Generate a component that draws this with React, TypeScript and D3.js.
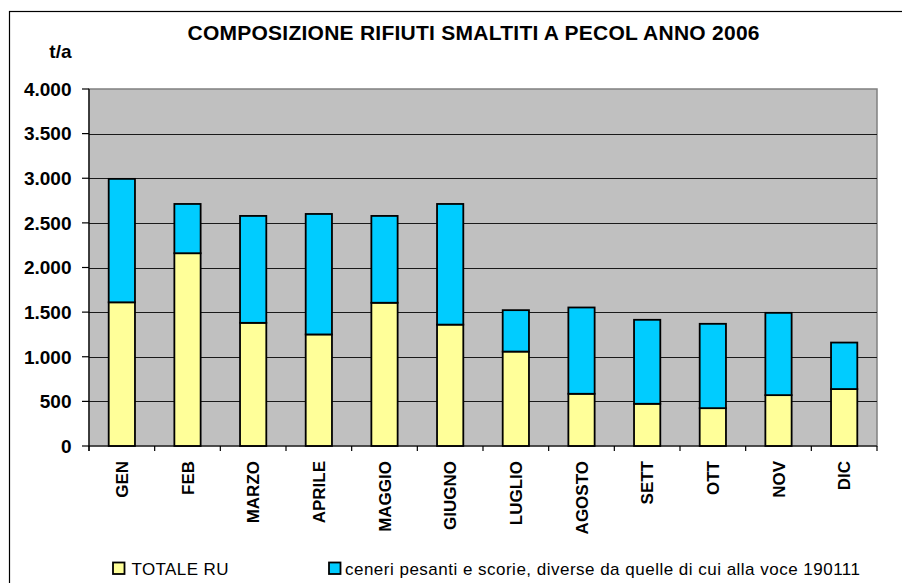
import React, { useEffect, useRef } from "react";
import * as d3 from "d3";

const months = ["GEN", "FEB", "MARZO", "APRILE", "MAGGIO", "GIUGNO", "LUGLIO", "AGOSTO", "SETT", "OTT", "NOV", "DIC"];
const totaleRU = [1610, 2160, 1380, 1250, 1605, 1360, 1058, 585, 473, 424, 570, 638];
const ceneri = [1383, 552, 1198, 1350, 973, 1352, 464, 967, 941, 945, 922, 521];
const yTicks = [0, 500, 1000, 1500, 2000, 2500, 3000, 3500, 4000];
const seriesNames = ["TOTALE RU", "ceneri pesanti e scorie, diverse da quelle di cui alla voce 190111"];
const seriesColors = ["#ffff99", "#00ccff"];
const title = "COMPOSIZIONE RIFIUTI SMALTITI A PECOL ANNO 2006";

const W = 902, H = 583;
const plot = { left: 89, right: 877, top: 89, bottom: 446 };

export default function App() {
  const ref = useRef<SVGSVGElement>(null);
  useEffect(() => {
    const svg = d3.select(ref.current);
    svg.selectAll("*").remove();
    const font = "Arial, 'Liberation Sans', Helvetica, sans-serif";

    // outer frame
    svg.append("rect").attr("x", 9.5).attr("y", 11.5).attr("width", 1000).attr("height", 1000)
      .attr("fill", "white").attr("stroke", "black").attr("stroke-width", 1.2);

    const x = d3.scaleBand<string>().domain(months).range([plot.left, plot.right]).paddingInner(0.6).paddingOuter(0.3);
    const band = d3.scaleBand<string>().domain(months).range([plot.left, plot.right]);
    const y = d3.scaleLinear().domain([0, 4000]).range([plot.bottom, plot.top]);

    // plot area
    svg.append("rect").attr("x", plot.left).attr("y", plot.top)
      .attr("width", plot.right - plot.left).attr("height", plot.bottom - plot.top)
      .attr("fill", "#c0c0c0").attr("stroke", "#808080").attr("stroke-width", 1.5);

    // gridlines
    svg.append("g").selectAll("line").data(yTicks.filter(t => t > 0 && t < 4000)).join("line")
      .attr("x1", plot.left).attr("x2", plot.right)
      .attr("y1", d => Math.round(y(d)) + 0.5).attr("y2", d => Math.round(y(d)) + 0.5)
      .attr("stroke", "#1a1a1a").attr("stroke-width", 1);

    // stacked bars
    const data = months.map((m, i) => ({ m, a: totaleRU[i], b: ceneri[i] }));
    const stack = d3.stack<any>().keys(["a", "b"])(data as any);
    stack.forEach((layer, li) => {
      svg.append("g").selectAll("rect").data(layer).join("rect")
        .attr("x", (d: any) => x(d.data.m)!)
        .attr("width", x.bandwidth())
        .attr("y", (d: any) => y(d[1]))
        .attr("height", (d: any) => y(d[0]) - y(d[1]))
        .attr("fill", seriesColors[li])
        .attr("stroke", "black").attr("stroke-width", 1.8);
    });

    // axes lines
    svg.append("line").attr("x1", plot.left).attr("x2", plot.left).attr("y1", plot.top).attr("y2", plot.bottom + 5)
      .attr("stroke", "black").attr("stroke-width", 1.2);
    svg.append("line").attr("x1", plot.left).attr("x2", plot.right).attr("y1", plot.bottom).attr("y2", plot.bottom)
      .attr("stroke", "black").attr("stroke-width", 1.2);

    // y ticks
    const yg = svg.append("g");
    yg.selectAll("line").data(yTicks).join("line")
      .attr("x1", plot.left - 7).attr("x2", plot.left)
      .attr("y1", d => y(d)).attr("y2", d => y(d)).attr("stroke", "black").attr("stroke-width", 1.2);
    const fmt = d3.formatLocale({ decimal: ",", thousands: ".", grouping: [3], currency: ["", ""] }).format(",d");
    yg.selectAll("text").data(yTicks).join("text")
      .attr("x", 71.5).attr("y", d => y(d)).attr("dy", "0.36em")
      .attr("text-anchor", "end").attr("font-family", font).attr("font-weight", "bold").attr("font-size", 19)
      .text(d => fmt(d));

    // x ticks
    const bounds = months.map(m => band(m)!).concat([plot.right]);
    svg.append("g").selectAll("line").data(bounds).join("line")
      .attr("x1", d => d).attr("x2", d => d).attr("y1", plot.bottom).attr("y2", plot.bottom + 5)
      .attr("stroke", "black").attr("stroke-width", 1.2);
    svg.append("g").selectAll("text").data(months).join("text")
      .attr("transform", m => `translate(${band(m)! + band.bandwidth() / 2},461) rotate(-90)`)
      .attr("text-anchor", "end").attr("dy", "0.36em")
      .attr("font-family", font).attr("font-weight", "bold").attr("font-size", 17)
      .text(m => m);

    // y unit
    svg.append("text").attr("x", 71.5).attr("y", 58).attr("text-anchor", "end")
      .attr("font-family", font).attr("font-weight", "bold").attr("font-size", 19).text("t/a");

    // title
    svg.append("text").attr("x", 187.5).attr("y", 40)
      .attr("textLength", 572).attr("lengthAdjust", "spacing")
      .attr("font-family", font).attr("font-weight", "bold").attr("font-size", 21).text(title);

    // legend
    const legX = [113, 329];
    const legLen = [97, 515];
    seriesNames.forEach((n, i) => {
      svg.append("rect").attr("x", legX[i]).attr("y", 562.5).attr("width", 11.5).attr("height", 11.5)
        .attr("fill", seriesColors[i]).attr("stroke", "black").attr("stroke-width", 1.8);
      svg.append("text").attr("x", legX[i] + (i === 0 ? 18.5 : 16)).attr("y", 574.5)
        .attr("textLength", legLen[i]).attr("lengthAdjust", "spacing")
        .attr("font-family", font).attr("font-size", 17).text(n);
    });
  }, []);
  return (
    <svg ref={ref} width={W} height={H} style={{ position: "absolute", left: 0, top: 0, background: "white" }} />
  );
}
